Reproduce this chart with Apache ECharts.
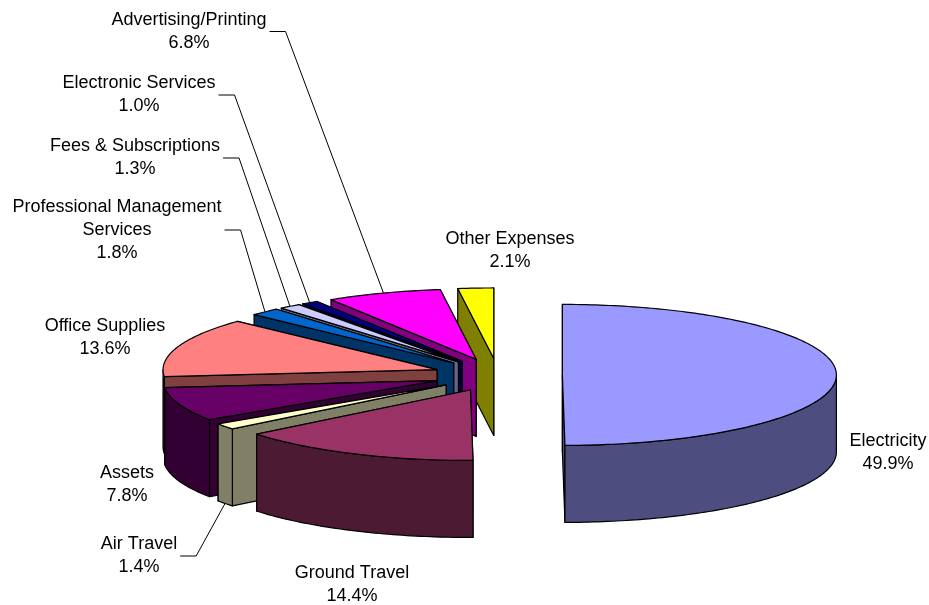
<!DOCTYPE html>
<html><head><meta charset="utf-8">
<script src="https://cdn.jsdelivr.net/npm/echarts@6/dist/echarts.min.js"></script>
<style>html,body{margin:0;padding:0;background:#fff}#c{width:929px;height:605px}</style>
</head><body><div id="c"></div>
<script>
// ---- data ----
const categories = ['Electricity','Ground Travel','Air Travel','Assets','Office Supplies','Professional Management Services','Fees & Subscriptions','Electronic Services','Advertising/Printing','Other Expenses'];
const values = [49.9,14.4,1.4,7.8,13.6,1.8,1.3,1.0,6.8,2.1];
// ---- styles / layout ----
const topColors = ['#9999FF','#993366','#FFFFCC','#660066','#FF8080','#0066CC','#CCCCFF','#000080','#FF00FF','#FFFF00'];
const sideColors = ['#4D4D80','#4D1A33','#808066','#330033','#804040','#003366','#666680','#000040','#800080','#808000'];
const labelPos = [[888,452.5],[352,585],[139,556],[127,485],[105,338],[117,230],[135,158],[139,95],[189,31.5],[510,251]];
const hasLeader = [false,false,true,false,false,true,true,true,true,false];

const CX = 498, CY = 375, RX = 274, RY = 70.5, D = 77, EXPLODE = 0.235;
const FONT_SIZE = 18, FONT_FAMILY = '"Liberation Sans", Arial, sans-serif';

const total = values.reduce((a, b) => a + b, 0);
const slices = [];
let acc = 0;
values.forEach((v) => {
  const s = acc / total * 2 * Math.PI; acc += v;
  const e = acc / total * 2 * Math.PI; const m = (s + e) / 2;
  slices.push({ s, e, m, ax: CX + EXPLODE * RX * Math.sin(m), ay: CY - EXPLODE * RY * Math.cos(m) });
});
function pt(sl, th, dz) { return [sl.ax + RX * Math.sin(th), sl.ay - RY * Math.cos(th) + dz]; }
function arc(sl, a, b, dz) {
  const n = Math.max(2, Math.ceil(Math.abs(b - a) / (Math.PI / 180)));
  const out = [];
  for (let k = 0; k <= n; k++) out.push(pt(sl, a + (b - a) * k / n, dz));
  return out;
}
const order = slices.map((s, i) => i).sort((a, b) => slices[a].ay - slices[b].ay);

function renderSlice(params, api) {
  const i = api.value(0);
  const sl = slices[i];
  const children = [];
  const poly = (pts, fill) => children.push({ type: 'polygon', shape: { points: pts },
    style: { fill: fill, stroke: '#000', lineWidth: 1.2, lineJoin: 'round' } });
  const aT = [sl.ax, sl.ay], aB = [sl.ax, sl.ay + D];
  const startFace = [aT, pt(sl, sl.s, 0), pt(sl, sl.s, D), aB];
  const endFace = [aT, pt(sl, sl.e, 0), pt(sl, sl.e, D), aB];
  const startVis = Math.sin(sl.s) < -1e-9, endVis = Math.sin(sl.e) > 1e-9;
  if (!startVis) poly(startFace, sideColors[i]);
  if (!endVis) poly(endFace, sideColors[i]);
  if (startVis) poly(startFace, sideColors[i]);
  if (endVis) poly(endFace, sideColors[i]);
  const a = Math.max(sl.s, Math.PI / 2), b = Math.min(sl.e, 3 * Math.PI / 2);
  if (b > a) poly(arc(sl, a, b, 0).concat(arc(sl, b, a, D)), sideColors[i]);
  poly([aT].concat(arc(sl, sl.s, sl.e, 0)), topColors[i]);
  return { type: 'group', children };
}

const mctx = document.createElement('canvas').getContext('2d');
mctx.font = FONT_SIZE + 'px ' + FONT_FAMILY;
function labelText(i) {
  return categories[i].replace('Management Services', 'Management\nServices') + '\n' + values[i].toFixed(1) + '%';
}
function renderLabel(params, api) {
  const i = api.value(0);
  const sl = slices[i];
  const txt = labelText(i);
  const [lx, ly] = labelPos[i];
  const children = [];
  if (hasLeader[i]) {
    const w = Math.max.apply(null, txt.split('\n').map(t => mctx.measureText(t).width));
    const p0 = [lx + w / 2 + 3, ly], p1 = [lx + w / 2 + 19, ly];
    const tgt = pt(sl, sl.m, Math.cos(sl.m) < 0 ? D : 0);
    children.push({ type: 'polyline', shape: { points: [p0, p1, tgt] },
      style: { stroke: '#000', lineWidth: 1, fill: null } });
  }
  children.push({ type: 'text', x: lx, y: ly, style: { text: txt, fill: '#000',
    fontSize: FONT_SIZE, fontFamily: FONT_FAMILY, align: 'center', verticalAlign: 'middle', lineHeight: 23 } });
  return { type: 'group', children };
}

const chart = echarts.init(document.getElementById('c'));
chart.setOption({
  animation: false,
  backgroundColor: '#fff',
  series: [
    { type: 'custom', coordinateSystem: 'none', silent: true, z: 1,
      renderItem: renderSlice, data: order.map(i => [i]) },
    { type: 'custom', coordinateSystem: 'none', silent: true, z: 2,
      renderItem: renderLabel, data: categories.map((c, i) => [i]) }
  ]
});
</script></body></html>
